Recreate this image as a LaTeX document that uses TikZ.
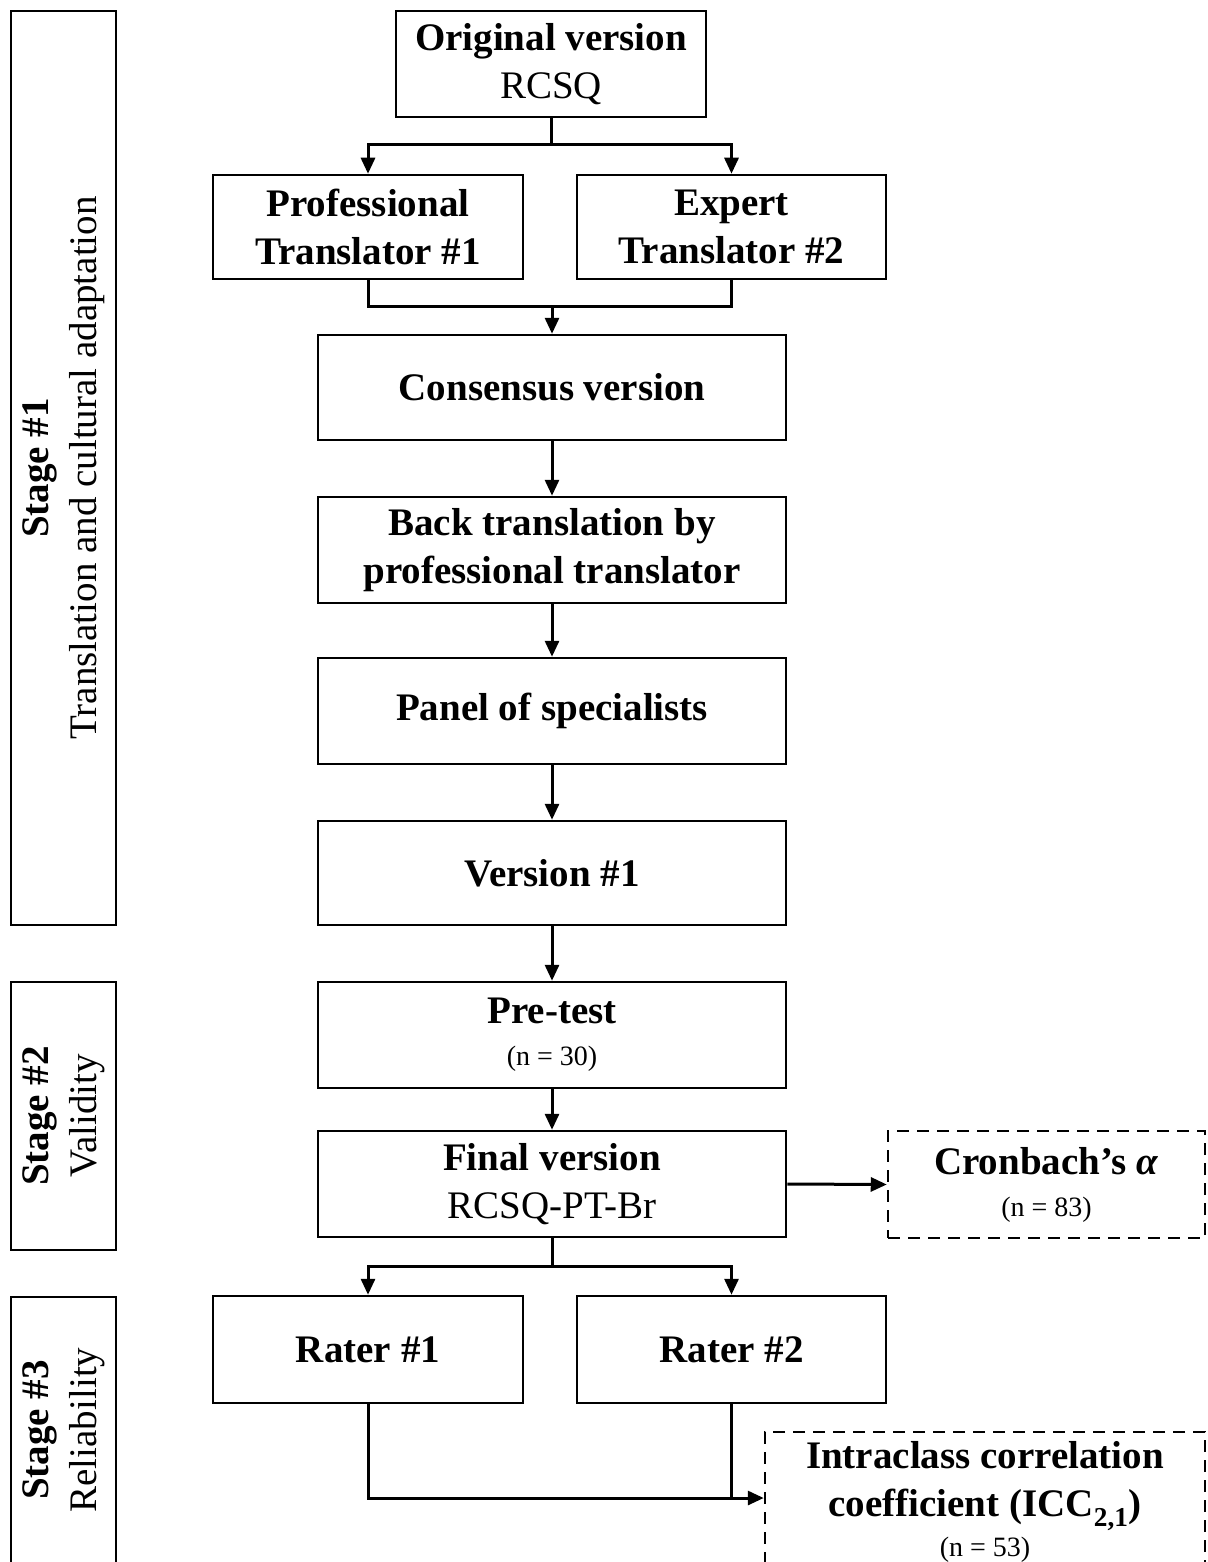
\documentclass[tikz,border=0pt]{standalone}
\usepackage{fontspec}
\setmainfont{Liberation Serif}
\usetikzlibrary{arrows.meta}
\newcommand\bigf{\fontsize{39}{48}\selectfont}
\newcommand\smallf{\fontsize{28}{32}\selectfont}
\begin{document}
\begin{tikzpicture}[x=1pt,y=-1pt,
  box/.style={draw, line width=2.5pt, align=center, inner sep=0pt, font=\bigf},
  dbox/.style={box, dash pattern=on 12pt off 8pt},
  conn/.style={line width=3pt},
  arr/.style={conn, -{Triangle[length=16pt,width=14pt]}}]
\useasboundingbox (0,0) rectangle (1207,1562);
\clip (0,0) rectangle (1207,1562);
% stage boxes
\node[box, rotate=90, minimum width=914pt, minimum height=105pt] (s1) at (63.5,468) {\textbf{Stage \#1}\\Translation and cultural adaptation};
\node[box, rotate=90, minimum width=268pt, minimum height=105pt] (s2) at (63.5,1116) {\textbf{Stage \#2}\\Validity};
\node[box, rotate=90, minimum width=266pt, minimum height=105pt] (s3) at (63.5,1430) {\textbf{Stage \#3}\\Reliability};
% main boxes
\node[box, minimum width=310pt, minimum height=106pt] (orig) at (551,64) {\textbf{Original version}\\RCSQ};
\node[box, minimum width=310pt, minimum height=104pt] (prof) at (368,227) {\textbf{Professional}\\\textbf{Translator \#1}};
\node[box, minimum width=309pt, minimum height=104pt] (exp) at (731.5,227) {\textbf{Expert}\\\textbf{Translator \#2}};
\node[box, minimum width=468pt, minimum height=105pt] (cons) at (552,387.5) {\textbf{Consensus version}};
\node[box, minimum width=468pt, minimum height=106pt] (back) at (552,550) {\textbf{Back translation by}\\\textbf{professional translator}};
\node[box, minimum width=468pt, minimum height=106pt] (panel) at (552,711) {\textbf{Panel of specialists}};
\node[box, minimum width=468pt, minimum height=104pt] (v1) at (552,873) {\textbf{Version \#1}};
\node[box, minimum width=468pt, minimum height=106pt] (pre) at (552,1035) {\textbf{Pre-test}\\[-6pt]{\smallf (n = 30)}};
\node[box, minimum width=468pt, minimum height=106pt] (final) at (552,1184) {\textbf{Final version}\\RCSQ-PT-Br};
\node[dbox, minimum width=317pt, minimum height=107pt] (cron) at (1046.5,1184.5) {\textbf{Cronbach’s \textit{α}}\\[-6pt]{\smallf (n = 83)}};
\node[box, minimum width=310pt, minimum height=107pt] (r1) at (368,1349.5) {\textbf{Rater \#1}};
\node[box, minimum width=309pt, minimum height=107pt] (r2) at (731.5,1349.5) {\textbf{Rater \#2}};
\node[dbox, minimum width=440pt, minimum height=140pt] (icc) at (985,1502) {\textbf{Intraclass correlation}\\\textbf{coefficient (ICC\textsubscript{2,1})}\\[-8pt]{\smallf (n = 53)}};
% connectors
\coordinate (j1) at (551,145);
\draw[arr] (orig.south) -- (j1) -| (prof.north);
\draw[arr] (j1) -| (exp.north);
\coordinate (j2) at (552,306);
\draw[conn] (prof.south) |- (exp.south |- j2) -- (exp.south);
\draw[arr] (j2) -- (cons.north);
\draw[arr] (cons.south) -- (back.north);
\draw[arr] (back.south) -- (panel.north);
\draw[arr] (panel.south) -- (v1.north);
\draw[arr] (v1.south) -- (pre.north);
\draw[arr] (pre.south) -- (final.north);
\draw[arr] (final.east) -- (cron.west);
\coordinate (j3) at (552,1266);
\draw[conn] (final.south) -- (j3);
\draw[arr] (j3) -| (r1.north);
\draw[arr] (j3) -| (r2.north);
\coordinate (j4) at (731.5,1498);
\draw[arr] (r1.south) |- (icc.west |- j4);
\draw[conn] (r2.south) -- (j4);
\end{tikzpicture}
\end{document}
